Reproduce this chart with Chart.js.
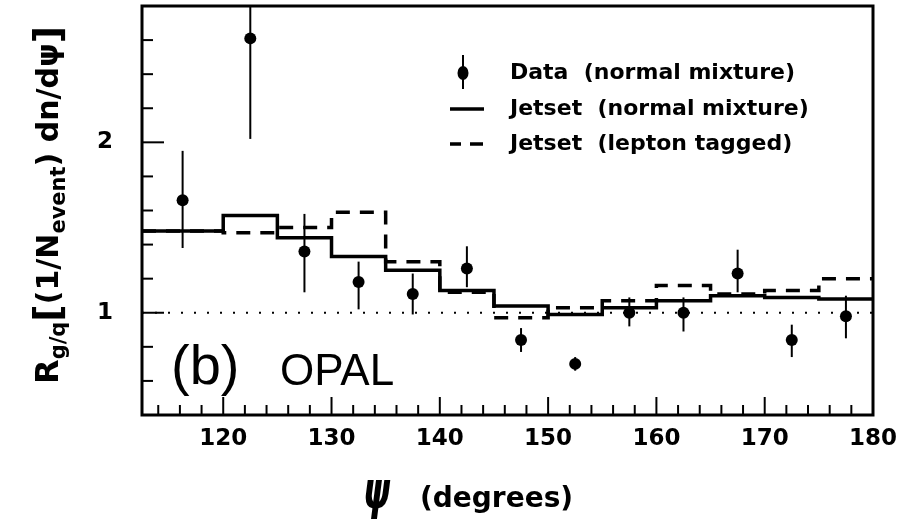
<!DOCTYPE html>
<html><head><meta charset="utf-8">
<script src="https://cdn.jsdelivr.net/npm/chart.js@4.4.1/dist/chart.umd.min.js"></script>
<style>html,body{margin:0;padding:0;background:#fff;}#wrap{width:903px;height:523px;}</style>
</head><body><div id="wrap"><canvas id="c" width="903" height="523"></canvas></div>
<script>
// ---- data ----
const binEdges = [112.5, 120, 125, 130, 135, 140, 145, 150, 155, 160, 165, 170, 175, 180];
const binCenters = [116.25, 122.5, 127.5, 132.5, 137.5, 142.5, 147.5, 152.5, 157.5, 162.5, 167.5, 172.5, 177.5];
const dataValues = [1.66, 2.61, 1.36, 1.18, 1.11, 1.26, 0.84, 0.70, 1.00, 1.00, 1.23, 0.84, 0.98];
const dataErrUp = [0.29, 0.59, 0.22, 0.12, 0.12, 0.13, 0.07, 0.04, 0.09, 0.09, 0.14, 0.09, 0.12];
const dataErrDown = [0.28, 0.59, 0.24, 0.16, 0.12, 0.11, 0.07, 0.04, 0.08, 0.11, 0.11, 0.10, 0.13];
const jetsetNormal = [1.48, 1.57, 1.44, 1.33, 1.25, 1.13, 1.04, 0.99, 1.03, 1.07, 1.10, 1.09, 1.08];
const jetsetLepton = [1.48, 1.47, 1.50, 1.59, 1.30, 1.12, 0.97, 1.03, 1.07, 1.16, 1.11, 1.13, 1.20];
const unityLevel = 1;
const xTickLabels = [120, 130, 140, 150, 160, 170, 180];
const yTickLabels = [1, 2];
const xMinorTicks = [114,116,118,120,122,124,126,128,130,132,134,136,138,140,142,144,146,148,150,152,154,156,158,160,162,164,166,168,170,172,174,176,178];
const yMinorTicks = [0.6,0.8,1.0,1.2,1.4,1.6,1.8,2.0,2.2,2.4,2.6];
const seriesLabels = ['Data  (normal mixture)', 'Jetset  (normal mixture)', 'Jetset  (lepton tagged)'];

const FONT = '"DejaVu Sans", sans-serif';

function stepPoints(vals) {
  const pts = vals.map((v, i) => ({ x: binEdges[i], y: v }));
  pts.push({ x: binEdges[binEdges.length - 1], y: vals[vals.length - 1] });
  return pts;
}
function zeroPad(s) { s.paddingTop = 0; s.paddingBottom = 0; s.paddingLeft = 0; s.paddingRight = 0; }

const overlay = {
  id: 'overlay',
  beforeDatasetsDraw(chart) {
    const { ctx, chartArea: a, scales: { x, y } } = chart;
    ctx.save();
    ctx.beginPath(); ctx.rect(a.left, a.top, a.right - a.left, a.bottom - a.top); ctx.clip();
    ctx.strokeStyle = '#000'; ctx.lineWidth = 2;
    binCenters.forEach((c, i) => {
      const px = x.getPixelForValue(c);
      ctx.beginPath();
      ctx.moveTo(px, y.getPixelForValue(dataValues[i] + dataErrUp[i]));
      ctx.lineTo(px, y.getPixelForValue(dataValues[i] - dataErrDown[i]));
      ctx.stroke();
    });
    ctx.restore();
  },
  afterDraw(chart) {
    const { ctx, chartArea: a, scales: { x, y } } = chart;
    ctx.save();
    ctx.strokeStyle = '#000'; ctx.fillStyle = '#000';
    // frame
    ctx.lineWidth = 3;
    ctx.strokeRect(a.left, a.top, a.right - a.left, a.bottom - a.top);
    // inward ticks
    ctx.lineWidth = 2;
    xMinorTicks.forEach(v => {
      const px = x.getPixelForValue(v);
      const len = (v % 10 === 0) ? 18 : 10;
      ctx.beginPath(); ctx.moveTo(px, a.bottom); ctx.lineTo(px, a.bottom - len); ctx.stroke();
    });
    yMinorTicks.forEach(v => {
      const py = y.getPixelForValue(v);
      const major = Math.abs(v - Math.round(v)) < 1e-6;
      const len = major ? 22 : 11;
      ctx.beginPath(); ctx.moveTo(a.left, py); ctx.lineTo(a.left + len, py); ctx.stroke();
    });
    // legend
    ctx.font = 'bold 22px ' + FONT;
    ctx.textBaseline = 'middle'; ctx.textAlign = 'left';
    const lx = 463, tx = 510, rows = [73, 109, 144];
    ctx.lineWidth = 2;
    ctx.beginPath(); ctx.moveTo(lx, rows[0] - 18); ctx.lineTo(lx, rows[0] + 16); ctx.stroke();
    ctx.beginPath(); ctx.ellipse(lx, rows[0], 5.5, 7, 0, 0, Math.PI * 2); ctx.fill();
    ctx.lineWidth = 3.5;
    ctx.beginPath(); ctx.moveTo(450, rows[1]); ctx.lineTo(484, rows[1]); ctx.stroke();
    ctx.beginPath(); ctx.moveTo(450, rows[2]); ctx.lineTo(461, rows[2]); ctx.moveTo(470, rows[2]); ctx.lineTo(483, rows[2]); ctx.stroke();
    seriesLabels.forEach((t, i) => ctx.fillText(t, tx, rows[i]));
    // (b) OPAL
    ctx.textBaseline = 'alphabetic';
    ctx.font = '56px "Liberation Sans", Arial, sans-serif';
    ctx.fillText('(b)', 171, 384);
    ctx.font = '44px "Liberation Sans", Arial, sans-serif';
    ctx.fillText('OPAL', 280, 385);
    // x title
    ctx.save();
    ctx.translate(363, 508);
    ctx.scale(0.95, 1.45);
    ctx.font = 'italic bold 36px ' + FONT;
    ctx.fillText('ψ', 0, 0);
    ctx.restore();
    ctx.font = 'bold 28px ' + FONT;
    ctx.fillText('(degrees)', 420, 507);
    // y title (rotated)
    ctx.translate(58, 384);
    ctx.rotate(-Math.PI / 2);
    let cx = 0;
    const piece = (t, size, dy) => {
      ctx.font = 'bold ' + size + 'px ' + FONT;
      ctx.fillText(t, cx, dy);
      cx += ctx.measureText(t).width;
    };
    piece('R', 32, 0);
    piece('g/q', 21, 7);
    piece('[', 38, 2);
    piece('(1/N', 30, 0);
    piece('event', 21, 7);
    piece(') dn/dψ', 30, 0);
    piece(']', 38, 2);
    ctx.restore();
  }
};

new Chart(document.getElementById('c'), {
  type: 'line',
  data: {
    datasets: [
      { label: seriesLabels[0], data: binCenters.map((c, i) => ({ x: c, y: dataValues[i] })),
        showLine: false, pointRadius: 6, pointStyle: 'circle', backgroundColor: '#000', borderColor: '#000', pointBorderWidth: 0, order: 0 },
      { label: seriesLabels[1], data: stepPoints(jetsetNormal), stepped: 'before', borderColor: '#000', borderWidth: 3.5, pointRadius: 0, fill: false, order: 1 },
      { label: seriesLabels[2], data: stepPoints(jetsetLepton), stepped: 'before', borderColor: '#000', borderWidth: 3.5, borderDash: [14, 10], pointRadius: 0, fill: false, order: 2 },
      { label: 'unity', data: [{ x: binEdges[0], y: unityLevel }, { x: binEdges[binEdges.length - 1], y: unityLevel }],
        borderColor: '#000', borderWidth: 2, borderDash: [2, 11], pointRadius: 0, fill: false, order: 3 }
    ]
  },
  options: {
    responsive: false, animation: false, devicePixelRatio: 1,
    layout: { padding: { top: 5, right: 30, left: 0, bottom: 0 } },
    plugins: { legend: { display: false }, tooltip: { enabled: false } },
    scales: {
      x: {
        type: 'linear', min: binEdges[0], max: binEdges[binEdges.length - 1],
        afterBuildTicks: s => { s.ticks = xTickLabels.map(v => ({ value: v })); },
        afterFit: s => { s.height = 108; zeroPad(s); },
        ticks: { color: '#000', font: { family: FONT, weight: 'bold', size: 23, lineHeight: 1.2 }, padding: 10, maxRotation: 0, autoSkip: false },
        grid: { display: false, drawTicks: false }, border: { display: false }
      },
      y: {
        type: 'linear', min: 0.4, max: 2.8,
        afterBuildTicks: s => { s.ticks = yTickLabels.map(v => ({ value: v })); },
        afterFit: s => { s.width = 142; zeroPad(s); },
        ticks: { color: '#000', font: { family: FONT, weight: 'bold', size: 23 }, padding: 29 },
        grid: { display: false, drawTicks: false }, border: { display: false }
      }
    }
  },
  plugins: [overlay]
});
</script></body></html>
